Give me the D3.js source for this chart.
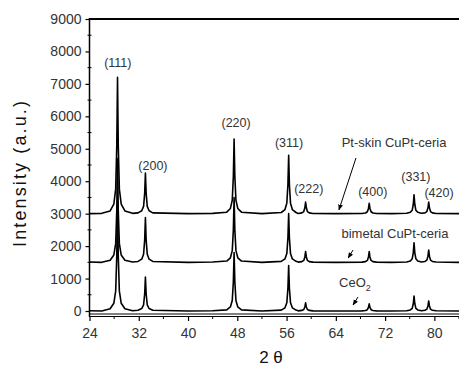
<!DOCTYPE html>
<html><head><meta charset="utf-8">
<script src="https://cdn.jsdelivr.net/npm/d3@7"></script>
<style>
html,body{margin:0;padding:0;background:#fff;}
svg{display:block;font-family:"Liberation Sans",Arial,sans-serif;}
</style></head>
<body><svg id="c" width="459" height="371"></svg>
<script>
// ---- data ----
const twoTheta = [24, 26,
  27.35, 27.95, 28.25, 28.43, 28.55, 28.67, 28.85, 29.15, 29.75,
  31,
  31.88, 32.48, 32.78, 32.96, 33.08, 33.20, 33.38, 33.68, 34.28,
  40, 44,
  46.28, 46.88, 47.18, 47.36, 47.48, 47.60, 47.78, 48.08, 48.68,
  52,
  55.14, 55.74, 56.04, 56.22, 56.34, 56.46, 56.64, 56.94, 57.54,
  57.89, 58.49, 58.79, 58.97, 59.09, 59.21, 59.39, 59.69, 60.29,
  64,
  68.22, 68.82, 69.12, 69.30, 69.42, 69.54, 69.72, 70.02, 70.62,
  73,
  75.50, 76.10, 76.40, 76.58, 76.70, 76.82, 77.00, 77.30, 77.90,
  78.48, 78.78, 78.96, 79.08, 79.20, 79.38, 79.68, 80.28,
  84];

const ptSkin = [3000, 3010,
  3084, 3294, 3756, 5100, 7200, 5100, 3756, 3294, 3084,
  3010,
  3025, 3088, 3225, 3625, 4250, 3625, 3225, 3088, 3025,
  3000, 3010,
  3046, 3161, 3414, 4150, 5300, 4150, 3414, 3161, 3046,
  3000,
  3036, 3126, 3324, 3900, 4800, 3900, 3324, 3126, 3036,
  3007, 3025, 3065, 3180, 3360, 3180, 3065, 3025, 3007,
  3000,
  3006, 3022, 3058, 3160, 3320, 3160, 3058, 3022, 3006,
  3000,
  3012, 3041, 3104, 3290, 3580, 3290, 3104, 3041, 3012,
  3025, 3065, 3180, 3360, 3180, 3065, 3025, 3007,
  3000];

const bimetal = [1510, 1500,
  1564, 1724, 2076, 3100, 4700, 3100, 2076, 1724, 1564,
  1510,
  1528, 1597, 1748, 2190, 2880, 2190, 1748, 1597, 1528,
  1500, 1510,
  1540, 1640, 1860, 2500, 3500, 2500, 1860, 1640, 1540,
  1500,
  1530, 1605, 1770, 2250, 3000, 2250, 1770, 1605, 1530,
  1507, 1523, 1559, 1665, 1830, 1665, 1559, 1523, 1507,
  1500,
  1507, 1523, 1559, 1665, 1830, 1665, 1559, 1523, 1507,
  1500,
  1512, 1542, 1608, 1800, 2100, 1800, 1608, 1542, 1512,
  1527, 1568, 1690, 1880, 1690, 1568, 1527, 1508,
  1500];

const ceo2 = [10, 0,
  68, 238, 612, 1700, 3400, 1700, 612, 238, 68,
  10,
  21, 74, 189, 525, 1050, 525, 189, 74, 21,
  0, 10,
  36, 126, 324, 900, 1800, 900, 324, 126, 36,
  0,
  28, 98, 252, 700, 1400, 700, 252, 98, 28,
  5, 18, 45, 125, 250, 125, 45, 18, 5,
  0,
  4, 15, 40, 110, 220, 110, 40, 15, 4,
  0,
  9, 32, 83, 230, 460, 230, 83, 32, 9,
  22, 56, 155, 310, 155, 56, 22, 6,
  0];

const xTicks = [24, 32, 40, 48, 56, 64, 72, 80];
const xMinorTicks = [28, 36, 44, 52, 60, 68, 76, 84];
const yTicks = [0, 1000, 2000, 3000, 4000, 5000, 6000, 7000, 8000, 9000];
const yMinorTicks = [500, 1500, 2500, 3500, 4500, 5500, 6500, 7500, 8500];

const peakLabels = ["(111)", "(200)", "(220)", "(311)", "(222)", "(400)", "(331)", "(420)"];
const peakLabelX = [28.6, 34.3, 47.8, 56.4, 59.6, 70.0, 77.0, 80.75];
const peakLabelY = [7520, 4360, 5660, 5070, 3650, 3530, 4020, 3500];

const sampleNames = ["Pt-skin CuPt-ceria", "bimetal CuPt-ceria", "CeO"];
const sampleLabelX = [73.45, 73.6, 67.1];
const sampleLabelY = [5070, 2265, 725];
const arrowFrom = [[67.27, 4716], [66.8, 1880], [67.6, 432]];
const arrowTo = [[64.5, 3113], [66.0, 1634], [66.8, 185]];

// ---- chart ----
const svg = d3.select("#c");
const L = 89.5, R = 459, T = 19, B0 = 311, AX = 316;
const x = d3.scaleLinear().domain([24, 84]).range([L, R]);
const y = d3.scaleLinear().domain([0, 9000]).range([B0, T]);

svg.append("defs").append("clipPath").attr("id", "clip")
  .append("rect").attr("x", L).attr("y", T).attr("width", R - L).attr("height", AX - T);
const m = svg.select("defs").append("marker").attr("id", "ah")
  .attr("viewBox", "0 0 10 10").attr("refX", 9).attr("refY", 5)
  .attr("markerWidth", 6).attr("markerHeight", 6).attr("orient", "auto");
m.append("path").attr("d", "M0,1 L10,5 L0,9 Z").attr("fill", "#000");

const line = d3.line().x((d, i) => x(twoTheta[i])).y(d => y(d));
const g = svg.append("g").attr("clip-path", "url(#clip)");
[ceo2, bimetal, ptSkin].forEach(s => {
  g.append("path").attr("d", line(s)).attr("fill", "none")
    .attr("stroke", "#000").attr("stroke-width", 1.6).attr("stroke-linejoin", "round");
});

// spines
svg.append("line").attr("x1", L).attr("x2", R).attr("y1", T).attr("y2", T)
  .attr("stroke", "#000").attr("stroke-width", 2);
svg.append("line").attr("x1", L).attr("x2", L).attr("y1", T - 1).attr("y2", AX + 1)
  .attr("stroke", "#000").attr("stroke-width", 1.5);

// y axis
const ya = svg.append("g").attr("transform", `translate(${L},0)`)
  .call(d3.axisLeft(y).tickValues(yTicks).tickFormat(d3.format("d")).tickSize(4).tickPadding(4).tickSizeOuter(0));
ya.select(".domain").remove();
ya.selectAll("text").attr("font-size", 14).attr("fill", "#333")
  .attr("font-family", "Liberation Sans, Arial, sans-serif");
ya.selectAll("line").attr("stroke-width", 1.2);
svg.append("g").selectAll("line").data(yMinorTicks).join("line")
  .attr("x1", L - 2).attr("x2", L + 2).attr("y1", d => y(d)).attr("y2", d => y(d))
  .attr("stroke", "#000").attr("stroke-width", 1);

// x axis
const xa = svg.append("g").attr("transform", `translate(0,${AX})`)
  .call(d3.axisBottom(x).tickValues(xTicks).tickFormat(d3.format("d")).tickSize(5).tickPadding(7).tickSizeOuter(0));
xa.select(".domain").remove();
xa.selectAll("text").attr("font-size", 14).attr("fill", "#333")
  .attr("font-family", "Liberation Sans, Arial, sans-serif");
xa.selectAll("line").attr("stroke-width", 1.2);
svg.append("g").selectAll("line").data(xMinorTicks).join("line")
  .attr("x1", d => x(d)).attr("x2", d => x(d)).attr("y1", AX).attr("y2", AX + 3)
  .attr("stroke", "#000").attr("stroke-width", 1);
svg.append("line").attr("x1", L).attr("x2", R).attr("y1", AX + 0.5).attr("y2", AX + 0.5)
  .attr("stroke", "#000").attr("stroke-width", 1.2);
svg.append("line").attr("x1", L).attr("x2", R).attr("y1", AX - 2).attr("y2", AX - 2)
  .attr("stroke", "#000").attr("stroke-width", 2).attr("stroke-dasharray", "1 1");

// titles
svg.append("text").attr("transform", `translate(26,${(100 + 248) / 2}) rotate(-90)`)
  .attr("text-anchor", "middle").attr("font-size", 18).attr("fill", "#111")
  .attr("textLength", 146).attr("lengthAdjust", "spacing")
  .text("Intensity (a.u.)");
svg.append("text").attr("x", 271).attr("y", 363).attr("text-anchor", "middle")
  .attr("font-size", 17).attr("fill", "#111").text("2 θ");

// peak labels
svg.append("g").selectAll("text").data(peakLabels).join("text")
  .attr("x", (d, i) => x(peakLabelX[i])).attr("y", (d, i) => y(peakLabelY[i]))
  .attr("text-anchor", "middle").attr("font-size", 12.5).attr("fill", "#333").text(d => d);

// sample labels
sampleNames.forEach((n, i) => {
  const t = svg.append("text").attr("x", x(sampleLabelX[i])).attr("y", y(sampleLabelY[i]))
    .attr("text-anchor", "middle").attr("font-size", 13).attr("fill", "#333");
  t.append("tspan").text(n);
  if (i === 2) t.append("tspan").attr("font-size", 9).attr("dy", 4).text("2");
});
arrowFrom.forEach((a, i) => {
  svg.append("line").attr("x1", x(a[0])).attr("y1", y(a[1]))
    .attr("x2", x(arrowTo[i][0])).attr("y2", y(arrowTo[i][1]))
    .attr("stroke", "#000").attr("stroke-width", 1).attr("marker-end", "url(#ah)");
});
</script></body></html>
